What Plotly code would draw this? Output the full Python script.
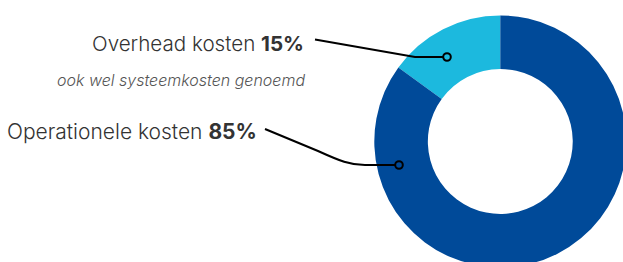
import plotly.graph_objects as go

labels = ["Overhead kosten", "Operationele kosten"]
values = [15, 85]
colors = ["#1CB9DE", "#004A99"]
subtitle = "ook wel systeemkosten genoemd"

# figure is a bit larger than the window so the donut can run off the edges
W, H = 640, 280
cx, cy, R = 500.3, 141.5, 126

fig = go.Figure()
fig.add_trace(go.Pie(
    labels=labels, values=values, sort=False, direction="clockwise",
    rotation=-54, hole=0.575, marker=dict(colors=colors, line=dict(width=0)),
    textinfo="none", hoverinfo="label+percent", showlegend=False,
    domain=dict(x=[(cx - R) / W, (cx + R) / W], y=[1 - (cy + R) / H, 1 - (cy - R) / H]),
))

# leader lines (shapes so they sit above the donut)
fig.add_shape(type="path", path="M 315 39.5 L 415 57 L 447 57", xref="x", yref="y",
              line=dict(color="black", width=2), layer="above")
fig.add_shape(type="path", path="M 265 129 L 318 151 C 340 161, 350 165, 365 165 L 399 165",
              xref="x", yref="y", line=dict(color="black", width=2), layer="above")
for (mx, my), c in zip([(447, 57), (399, 165)], colors):
    fig.add_shape(type="circle", x0=mx - 3.8, x1=mx + 3.8, y0=my - 3.8, y1=my + 3.8,
                  xref="x", yref="y", line=dict(color="black", width=2), fillcolor=c, layer="above")

fnt = "Inter"
annots = [
    dict(x=306, y=43, text=f"{labels[0]} <b>{values[0]}%</b>", size=20.6),
    dict(x=259, y=131, text=f"{labels[1]} <b>{values[1]}%</b>", size=21),
]
for a in annots:
    fig.add_annotation(x=a["x"], y=a["y"], xref="x", yref="y", text=a["text"], showarrow=False,
                       xanchor="right", yanchor="middle",
                       font=dict(family=fnt, size=a["size"], color="#333333", weight=300))
fig.add_annotation(x=307, y=80, xref="x", yref="y", text=f"<i>{subtitle}</i>", showarrow=False,
                   xanchor="right", yanchor="middle",
                   font=dict(family=fnt, size=16, color="#555555", weight=300))

fig.update_layout(
    width=W, height=H, margin=dict(l=0, r=0, t=0, b=0),
    paper_bgcolor="white", plot_bgcolor="rgba(0,0,0,0)",
    xaxis=dict(range=[0, W], visible=False, fixedrange=True),
    yaxis=dict(range=[H, 0], visible=False, fixedrange=True),
)
fig.write_html(
    "out.html",
    config={"displayModeBar": False},
    post_script="document.documentElement.style.overflow='hidden';"
                "document.body.style.margin='0';document.body.style.overflow='hidden';",
)
